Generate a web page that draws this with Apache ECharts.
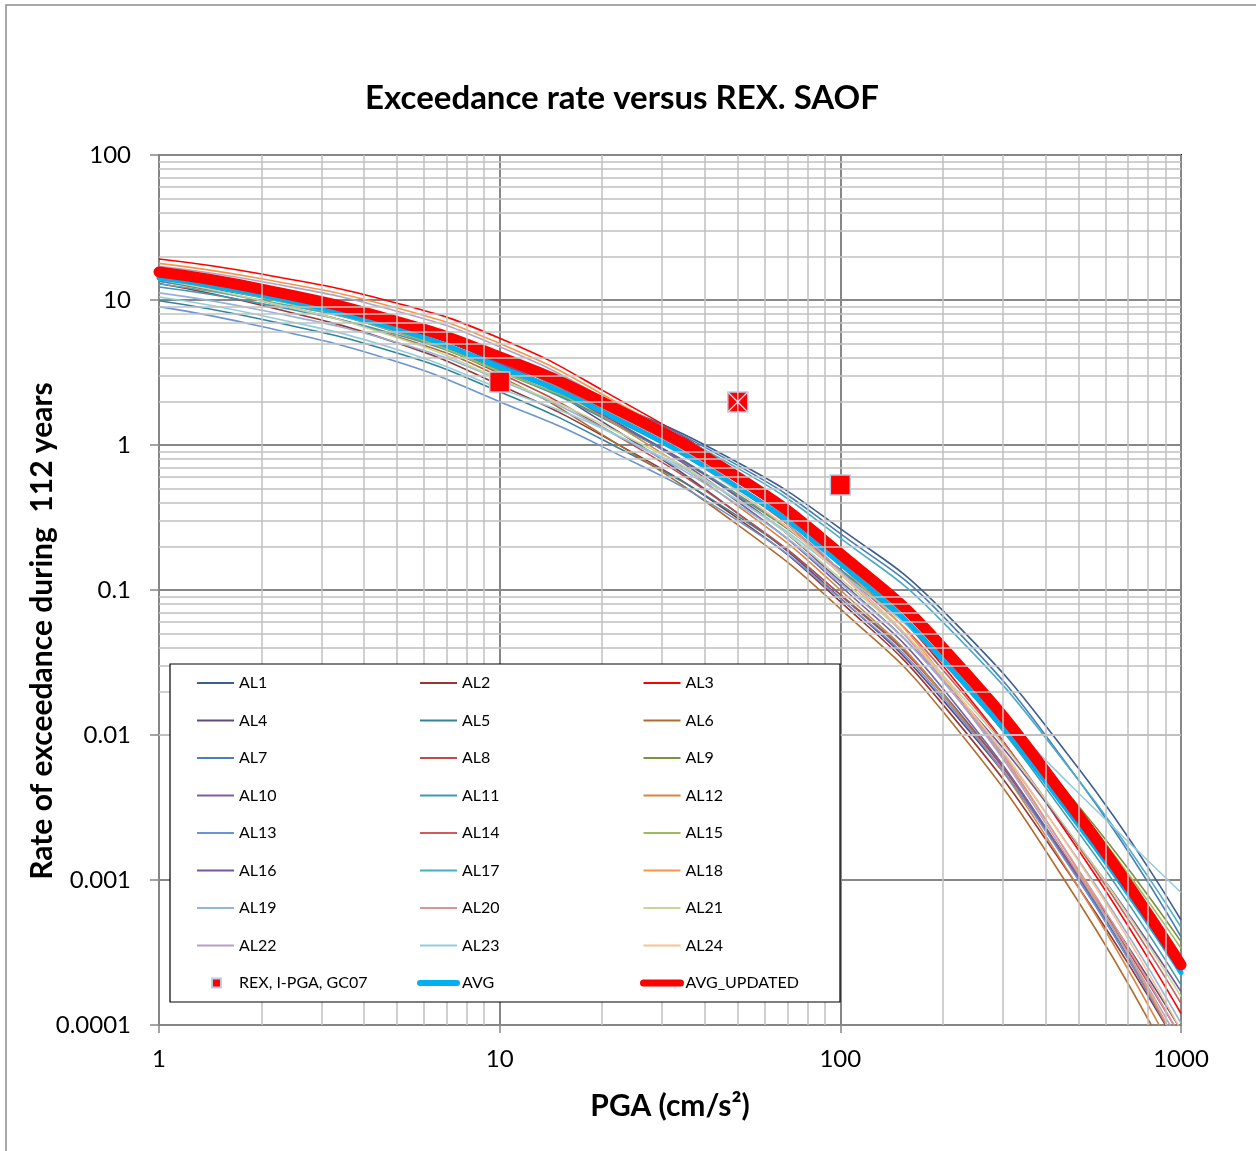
<!DOCTYPE html>
<html>
<head>
<meta charset="utf-8">
<script src="https://cdn.jsdelivr.net/npm/echarts@6/dist/echarts.min.js"></script>
<style>
html,body{margin:0;padding:0;background:#fff;}
#chart{width:1256px;height:1151px;}
</style>
</head>
<body>
<div id="chart"></div>
<script>
// PGA sample points (cm/s^2)
const pga = [1, 2, 5, 10, 20, 50, 100, 200, 500, 1000];

// Rate of exceedance during 112 years
const AL1  = [13.8, 10.7, 6.67, 3.78, 2.07, 0.757, 0.265, 0.072, 0.00589, 0.00053];
const AL2  = [13.0, 9.2, 5.05, 2.59, 1.16, 0.312, 0.0832, 0.0162, 0.000891, 0.0000652];
const AL3  = [19.2, 15.1, 9.5, 5.45, 2.39, 0.63, 0.158, 0.030, 0.00161, 0.00012];
const AL4  = [14.5, 10.9, 6.55, 3.61, 1.45, 0.338, 0.0881, 0.0174, 0.00109, 0.000092];
const AL5  = [9.89, 7.36, 4.31, 2.33, 1.09, 0.323, 0.0933, 0.0195, 0.00105, 0.0000652];
const AL6  = [13.5, 9.84, 5.58, 2.96, 1.18, 0.281, 0.0741, 0.0145, 0.000708, 0.0000411];
const AL7  = [13.5, 10.4, 6.41, 3.61, 2.04, 0.723, 0.245, 0.066, 0.0049, 0.000406];
const AL8  = [14.8, 10.6, 5.96, 3.12, 1.33, 0.338, 0.0923, 0.0191, 0.00107, 0.000082];
const AL9  = [14.5, 10.6, 6.14, 3.29, 1.56, 0.446, 0.138, 0.0347, 0.00324, 0.000376];
const AL10 = [16.2, 12.3, 7.35, 4.05, 1.66, 0.406, 0.107, 0.0209, 0.00102, 0.0000652];
const AL11 = [12.3, 9.44, 5.75, 3.21, 1.54, 0.456, 0.138, 0.0316, 0.00213, 0.000189];
const AL12 = [15.8, 12.0, 7.18, 3.95, 1.58, 0.379, 0.100, 0.0191, 0.000891, 0.0000518];
const AL13 = [9.0, 6.56, 3.75, 1.99, 0.975, 0.301, 0.0871, 0.0182, 0.00100, 0.0000652];
const AL14 = [15.1, 11.5, 6.85, 3.78, 1.76, 0.5, 0.136, 0.0281, 0.00171, 0.000141];
const AL15 = [14.1, 10.4, 6.0, 3.21, 1.64, 0.500, 0.155, 0.0372, 0.00309, 0.000338];
const AL16 = [14.8, 11.2, 6.7, 3.69, 1.62, 0.436, 0.115, 0.024, 0.00174, 0.00017];
const AL17 = [12.9, 9.95, 6.12, 3.44, 1.94, 0.690, 0.228, 0.060, 0.0049, 0.000472];
const AL18 = [17.9, 14.0, 8.81, 5.02, 2.24, 0.60, 0.148, 0.0257, 0.00115, 0.0000652];
const AL19 = [11.2, 8.49, 5.09, 2.81, 1.32, 0.388, 0.112, 0.0234, 0.00138, 0.000103];
const AL20 = [15.5, 11.7, 7.01, 3.86, 1.82, 0.524, 0.129, 0.024, 0.00118, 0.000082];
const AL21 = [13.8, 9.89, 5.5, 2.86, 1.39, 0.418, 0.12, 0.0259, 0.00176, 0.000157];
const AL22 = [17.1, 13.4, 8.37, 4.76, 2.13, 0.574, 0.135, 0.024, 0.0011, 0.0000731];
const AL23 = [10.5, 7.82, 4.56, 2.46, 1.30, 0.416, 0.132, 0.0339, 0.00398, 0.00082];
const AL24 = [16.2, 12.4, 7.59, 4.24, 1.84, 0.478, 0.129, 0.0251, 0.00135, 0.000092];
const AVG  = [14.2, 10.8, 6.3, 3.45, 1.70, 0.51, 0.152, 0.033, 0.0024, 0.00023];
const AVG_UPDATED = [15.6, 11.9, 7.1, 4.05, 1.98, 0.60, 0.178, 0.040, 0.0028, 0.00026];

// REX, I-PGA, GC07 observations
const rexPGA  = [10, 50, 100];
const rexRate = [2.72, 1.98, 0.53];

// axis ticks
const xTicks = [1, 10, 100, 1000];
const xTickLabels = ['1', '10', '100', '1000'];
const yTicks = [0.0001, 0.001, 0.01, 0.1, 1, 10, 100];
const yTickLabels = ['0.0001', '0.001', '0.01', '0.1', '1', '10', '100'];
const minorMantissas = [2, 3, 4, 5, 6, 7, 8, 9];

const alNames = [];
for (let i = 1; i <= 24; i++) alNames.push('AL' + i);
const alData = [AL1,AL2,AL3,AL4,AL5,AL6,AL7,AL8,AL9,AL10,AL11,AL12,AL13,AL14,AL15,AL16,AL17,AL18,AL19,AL20,AL21,AL22,AL23,AL24];
const alColors = ['#3B5E91','#943634','#FF0000','#5F4A7E','#31849B','#B26B2D','#4A7EBB','#BE4B48','#77933C','#7D5FA0','#3F99B1','#D7843F',
                  '#6A94D4','#CF5C5A','#9BBB59','#77569B','#4BACC6','#F79646','#95B3D7','#D99694','#C3D69B','#B3A2C7','#93CDDD','#FAC090'];

function pairs(xs, ys) { return xs.map((x, i) => [x, ys[i]]); }
function labelFor(ticks, labels, v) {
  let best = 0, bd = Infinity;
  ticks.forEach((t, i) => { const d = Math.abs(Math.log10(t) - Math.log10(v)); if (d < bd) { bd = d; best = i; } });
  return labels[best];
}

const minorX = [];
xTicks.slice(0, -1).forEach(d => minorMantissas.forEach(m => minorX.push(m * d)));
const minorY = [];
yTicks.slice(0, -1).forEach(d => minorMantissas.forEach(m => minorY.push(+(m * d).toPrecision(3))));

const FONT = 'Lato';
const SMOOTH = 0.5;
const series = [];
series.push({
  name: '_grid', type: 'line', data: [], z: 1, silent: true,
  markLine: {
    silent: true, symbol: ['none', 'none'], label: { show: false }, animation: false,
    lineStyle: { color: '#C0C0C0', width: 1.5, type: 'solid' },
    data: minorX.map(v => ({ xAxis: v })).concat(minorY.map(v => ({ yAxis: v })))
  }
});
alNames.forEach((n, i) => {
  series.push({
    name: n, type: 'line', data: pairs(pga, alData[i]), smooth: SMOOTH,
    symbol: 'none', z: 2, lineStyle: { color: alColors[i], width: 1.6 }, itemStyle: { color: alColors[i] }
  });
});
series.push({
  name: 'AVG', type: 'line', data: pairs(pga, AVG), smooth: SMOOTH, symbol: 'none', z: 3,
  lineStyle: { color: '#00B0F0', width: 5, cap: 'round' }, itemStyle: { color: '#00B0F0' }
});
series.push({
  name: 'AVG_UPDATED', type: 'line', data: pairs(pga, AVG_UPDATED), smooth: SMOOTH, symbol: 'none', z: 4,
  lineStyle: { color: '#FF0000', width: 11, cap: 'round' }, itemStyle: { color: '#FF0000' }
});
series.push({
  name: 'REX, I-PGA, GC07', type: 'scatter', data: pairs(rexPGA, rexRate), symbol: 'rect', symbolSize: 20, z: 5,
  itemStyle: { color: '#FF0000', borderColor: '#B9CDE5', borderWidth: 1.5, opacity: 1 }
});
series.push({
  name: '_rexX', type: 'scatter', data: [[rexPGA[1], rexRate[1]]], symbol: 'path://M0,0L20,20M20,0L0,20M10,0L10,20', symbolSize: 20, z: 6, silent: true,
  itemStyle: { color: 'rgba(0,0,0,0)', borderColor: '#C9D6EA', borderWidth: 1.3, opacity: 1 }
});

const col1 = [], col2 = [], col3 = [];
alNames.forEach((n, i) => { [col1, col2, col3][i % 3].push({ name: n }); });
col2.push({ name: 'AVG', lineStyle: { width: 6, cap: 'round' } });
col3.push({ name: 'AVG_UPDATED', lineStyle: { width: 7, cap: 'round' } });

const legendCommon = {
  orient: 'vertical', itemWidth: 37, itemHeight: 12, itemGap: 21.5, selectedMode: false, z: 60, padding: 0,
  itemStyle: { opacity: 0 },
  textStyle: { fontFamily: FONT, fontSize: 16, color: '#000', lineHeight: 16 }
};

const option = {
  animation: false,
  backgroundColor: '#fff',
  grid: { left: 159, top: 155, right: 75, bottom: 126, show: true, borderColor: '#000', borderWidth: 2, containLabel: false },
  xAxis: {
    type: 'log', logBase: 10, min: 1, max: 1000,
    axisLine: { show: true, lineStyle: { color: '#868686', width: 2 } },
    axisTick: { show: true, length: 8, lineStyle: { color: '#868686', width: 1.5 } },
    axisLabel: { fontFamily: FONT, fontSize: 24, color: '#000', margin: 22, formatter: v => labelFor(xTicks, xTickLabels, v) },
    splitLine: { show: true, lineStyle: { color: '#878787', width: 2 } },
    name: 'PGA (cm/s²)', nameLocation: 'middle', nameGap: 66,
    nameTextStyle: { fontFamily: FONT, fontSize: 30, fontWeight: 'bold', color: '#000' }
  },
  yAxis: {
    type: 'log', logBase: 10, min: 0.0001, max: 100,
    axisLine: { show: true, lineStyle: { color: '#868686', width: 2 } },
    axisTick: { show: true, length: 9, lineStyle: { color: '#868686', width: 1.5 } },
    axisLabel: { fontFamily: FONT, fontSize: 24, color: '#000', margin: 28, formatter: v => labelFor(yTicks, yTickLabels, v) },
    splitLine: { show: true, lineStyle: { color: '#878787', width: 2 } }
  },
  legend: [
    Object.assign({}, legendCommon, { left: 196, top: 675, data: col1 }),
    Object.assign({}, legendCommon, { left: 417, top: 675, data: col2 }),
    Object.assign({}, legendCommon, { left: 640, top: 675, data: col3 }),
    Object.assign({}, legendCommon, { left: 211, top: 975, itemWidth: 9, itemHeight: 9, itemStyle: {}, data: [{ name: 'REX, I-PGA, GC07', icon: 'rect' }],
      textStyle: { fontFamily: FONT, fontSize: 16, color: '#000', lineHeight: 16, padding: [0, 0, 0, 13] } })
  ],
  graphic: [
    { type: 'rect', z: -10, silent: true, shape: { x: 6, y: 5, width: 1300, height: 1200 }, style: { fill: 'none', stroke: '#8C8C8C', lineWidth: 1.5 } },
    { type: 'rect', z: 50, silent: true, shape: { x: 170, y: 664, width: 670, height: 338 }, style: { fill: '#fff', stroke: '#000', lineWidth: 1.2 } },
    { type: 'text', z: 50, silent: true, x: 622, y: 98, style: { text: 'Exceedance rate versus REX. SAOF', align: 'center', verticalAlign: 'middle', font: 'bold 33px Lato', fill: '#000' } },
    { type: 'text', z: 50, silent: true, x: 42, y: 631, rotation: Math.PI / 2, style: { text: 'Rate of exceedance during  112 years', align: 'center', verticalAlign: 'middle', font: 'bold 30px Lato', fill: '#000' } }
  ],
  series: series
};

const chart = echarts.init(document.getElementById('chart'), null, { renderer: 'canvas' });
chart.setOption(option);
</script>
</body>
</html>
